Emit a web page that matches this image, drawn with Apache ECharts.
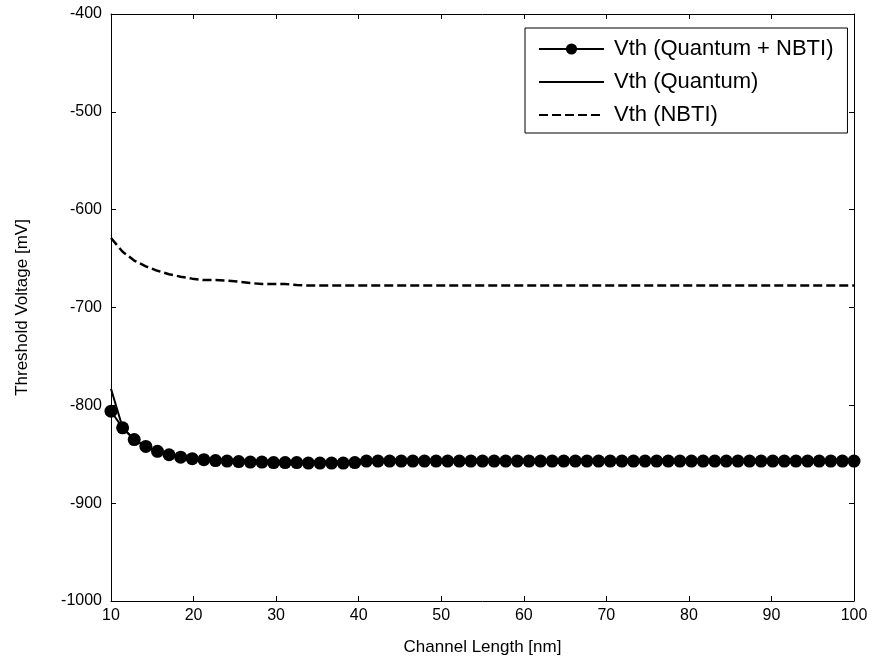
<!DOCTYPE html>
<html>
<head>
<meta charset="utf-8">
<script src="https://cdn.jsdelivr.net/npm/echarts@6/dist/echarts.min.js"></script>
<style>
html,body{margin:0;padding:0;background:#fff;}
#chart{width:876px;height:666px;}
</style>
</head>
<body>
<div id="chart"></div>
<script>
// Channel length [nm]
var channelLength = [10, 11.41, 12.81, 14.22, 15.63, 17.03, 18.44, 19.84, 21.25, 22.66, 24.06, 25.47, 26.88, 28.28, 29.69, 31.09, 32.5, 33.91, 35.31, 36.72, 38.13, 39.53, 40.94, 42.34, 43.75, 45.16, 46.56, 47.97, 49.38, 50.78, 52.19, 53.59, 55, 56.41, 57.81, 59.22, 60.63, 62.03, 63.44, 64.84, 66.25, 67.66, 69.06, 70.47, 71.88, 73.28, 74.69, 76.09, 77.5, 78.91, 80.31, 81.72, 83.13, 84.53, 85.94, 87.34, 88.75, 90.16, 91.56, 92.97, 94.38, 95.78, 97.19, 98.59, 100];
// Vth (Quantum + NBTI) [mV]
var vthQuantumNbti = [-806, -823, -835, -842, -847, -850.5, -853, -854.5, -855.5, -856.5, -857, -857.5, -858, -858, -858.5, -858.5, -858.5, -859, -859, -859, -859, -858.5, -857, -857, -857, -857, -857, -857, -857, -857, -857, -857, -857, -857, -857, -857, -857, -857, -857, -857, -857, -857, -857, -857, -857, -857, -857, -857, -857, -857, -857, -857, -857, -857, -857, -857, -857, -857, -857, -857, -857, -857, -857, -857, -857];
// Vth (Quantum) [mV]
var vthQuantum = [-783, -823, -835, -842, -847, -850.5, -853, -854.5, -855.5, -856.5, -857, -857.5, -858, -858, -858.5, -858.5, -858.5, -859, -859, -859, -859, -858.5, -857, -857, -857, -857, -857, -857, -857, -857, -857, -857, -857, -857, -857, -857, -857, -857, -857, -857, -857, -857, -857, -857, -857, -857, -857, -857, -857, -857, -857, -857, -857, -857, -857, -857, -857, -857, -857, -857, -857, -857, -857, -857, -857];
// Vth (NBTI) [mV]
var vthNbti = [-629, -643, -652, -658, -662.5, -666, -668.5, -670.5, -672, -672, -672.5, -673.5, -675, -676, -676, -676, -677, -677.5, -677.5, -677.5, -677.5, -677.5, -677.5, -677.5, -677.5, -677.5, -677.5, -677.5, -677.5, -677.5, -677.5, -677.5, -677.5, -677.5, -677.5, -677.5, -677.5, -677.5, -677.5, -677.5, -677.5, -677.5, -677.5, -677.5, -677.5, -677.5, -677.5, -677.5, -677.5, -677.5, -677.5, -677.5, -677.5, -677.5, -677.5, -677.5, -677.5, -677.5, -677.5, -677.5, -677.5, -677.5, -677.5, -677.5, -677.5];
var seriesNames = ['Vth (Quantum + NBTI)', 'Vth (Quantum)', 'Vth (NBTI)'];
var xTicks = [10, 100, 10];   // min, max, interval
var yTicks = [-1000, -400, 100];

function pairs(xs, ys) { return xs.map(function (x, i) { return [x, ys[i]]; }); }
function plain(v) { return String(v); }

var font = 'Liberation Sans, Arial, sans-serif';
var chart = echarts.init(document.getElementById('chart'), null, {renderer: 'canvas'});
var axisCommon = {
  type: 'value',
  axisLine: {show: true, onZero: false, lineStyle: {color: '#000', width: 1}},
  axisTick: {show: true, inside: true, length: 5, lineStyle: {color: '#000'}},
  splitLine: {show: false}
};
chart.setOption({
  animation: false,
  backgroundColor: '#fff',
  textStyle: {fontFamily: font},
  grid: {left: 111, right: 22, top: 14, bottom: 65, containLabel: false},
  xAxis: [
    Object.assign({}, axisCommon, {
      position: 'bottom', min: xTicks[0], max: xTicks[1], interval: xTicks[2],
      name: 'Channel Length [nm]', nameLocation: 'middle', nameGap: 38,
      nameTextStyle: {color: '#000', fontSize: 17, fontFamily: font},
      axisLabel: {color: '#000', fontSize: 16, margin: 7, fontFamily: font, formatter: plain}
    }),
    Object.assign({}, axisCommon, {
      position: 'top', min: xTicks[0], max: xTicks[1], interval: xTicks[2],
      axisLabel: {show: false}
    })
  ],
  yAxis: [
    Object.assign({}, axisCommon, {
      position: 'left', min: yTicks[0], max: yTicks[1], interval: yTicks[2],
      name: 'Threshold Voltage [mV]', nameLocation: 'middle', nameGap: 80,
      nameTextStyle: {color: '#000', fontSize: 17, fontFamily: font},
      axisLabel: {color: '#000', fontSize: 16, margin: 9, fontFamily: font, formatter: plain}
    }),
    Object.assign({}, axisCommon, {
      position: 'right', min: yTicks[0], max: yTicks[1], interval: yTicks[2],
      axisLabel: {show: false}
    })
  ],
  legend: {
    left: 525, top: 28,
    orient: 'vertical',
    backgroundColor: '#fff', borderColor: '#000', borderWidth: 1,
    padding: [10, 14, 7, 13],
    itemWidth: 65, itemHeight: 14, itemGap: 11,
    textStyle: {color: '#000', fontSize: 22, fontFamily: font, padding: [0, 0, 0, 5]},
    data: [
      {name: seriesNames[0]},
      {name: seriesNames[1], itemStyle: {opacity: 0}},
      {name: seriesNames[2], itemStyle: {opacity: 0}}
    ]
  },
  series: [
    {
      name: seriesNames[0], type: 'line', data: pairs(channelLength, vthQuantumNbti),
      symbol: 'circle', symbolSize: 13, showSymbol: true,
      itemStyle: {color: '#000'}, lineStyle: {color: '#000', width: 2}, z: 3
    },
    {
      name: seriesNames[1], type: 'line', data: pairs(channelLength, vthQuantum),
      symbol: 'none', itemStyle: {color: '#000'}, lineStyle: {color: '#000', width: 2}, z: 2
    },
    {
      name: seriesNames[2], type: 'line', data: pairs(channelLength, vthNbti),
      symbol: 'none', itemStyle: {color: '#000'},
      lineStyle: {color: '#000', width: 2.5, type: [9, 4]}, z: 2
    }
  ]
});
</script>
</body>
</html>
